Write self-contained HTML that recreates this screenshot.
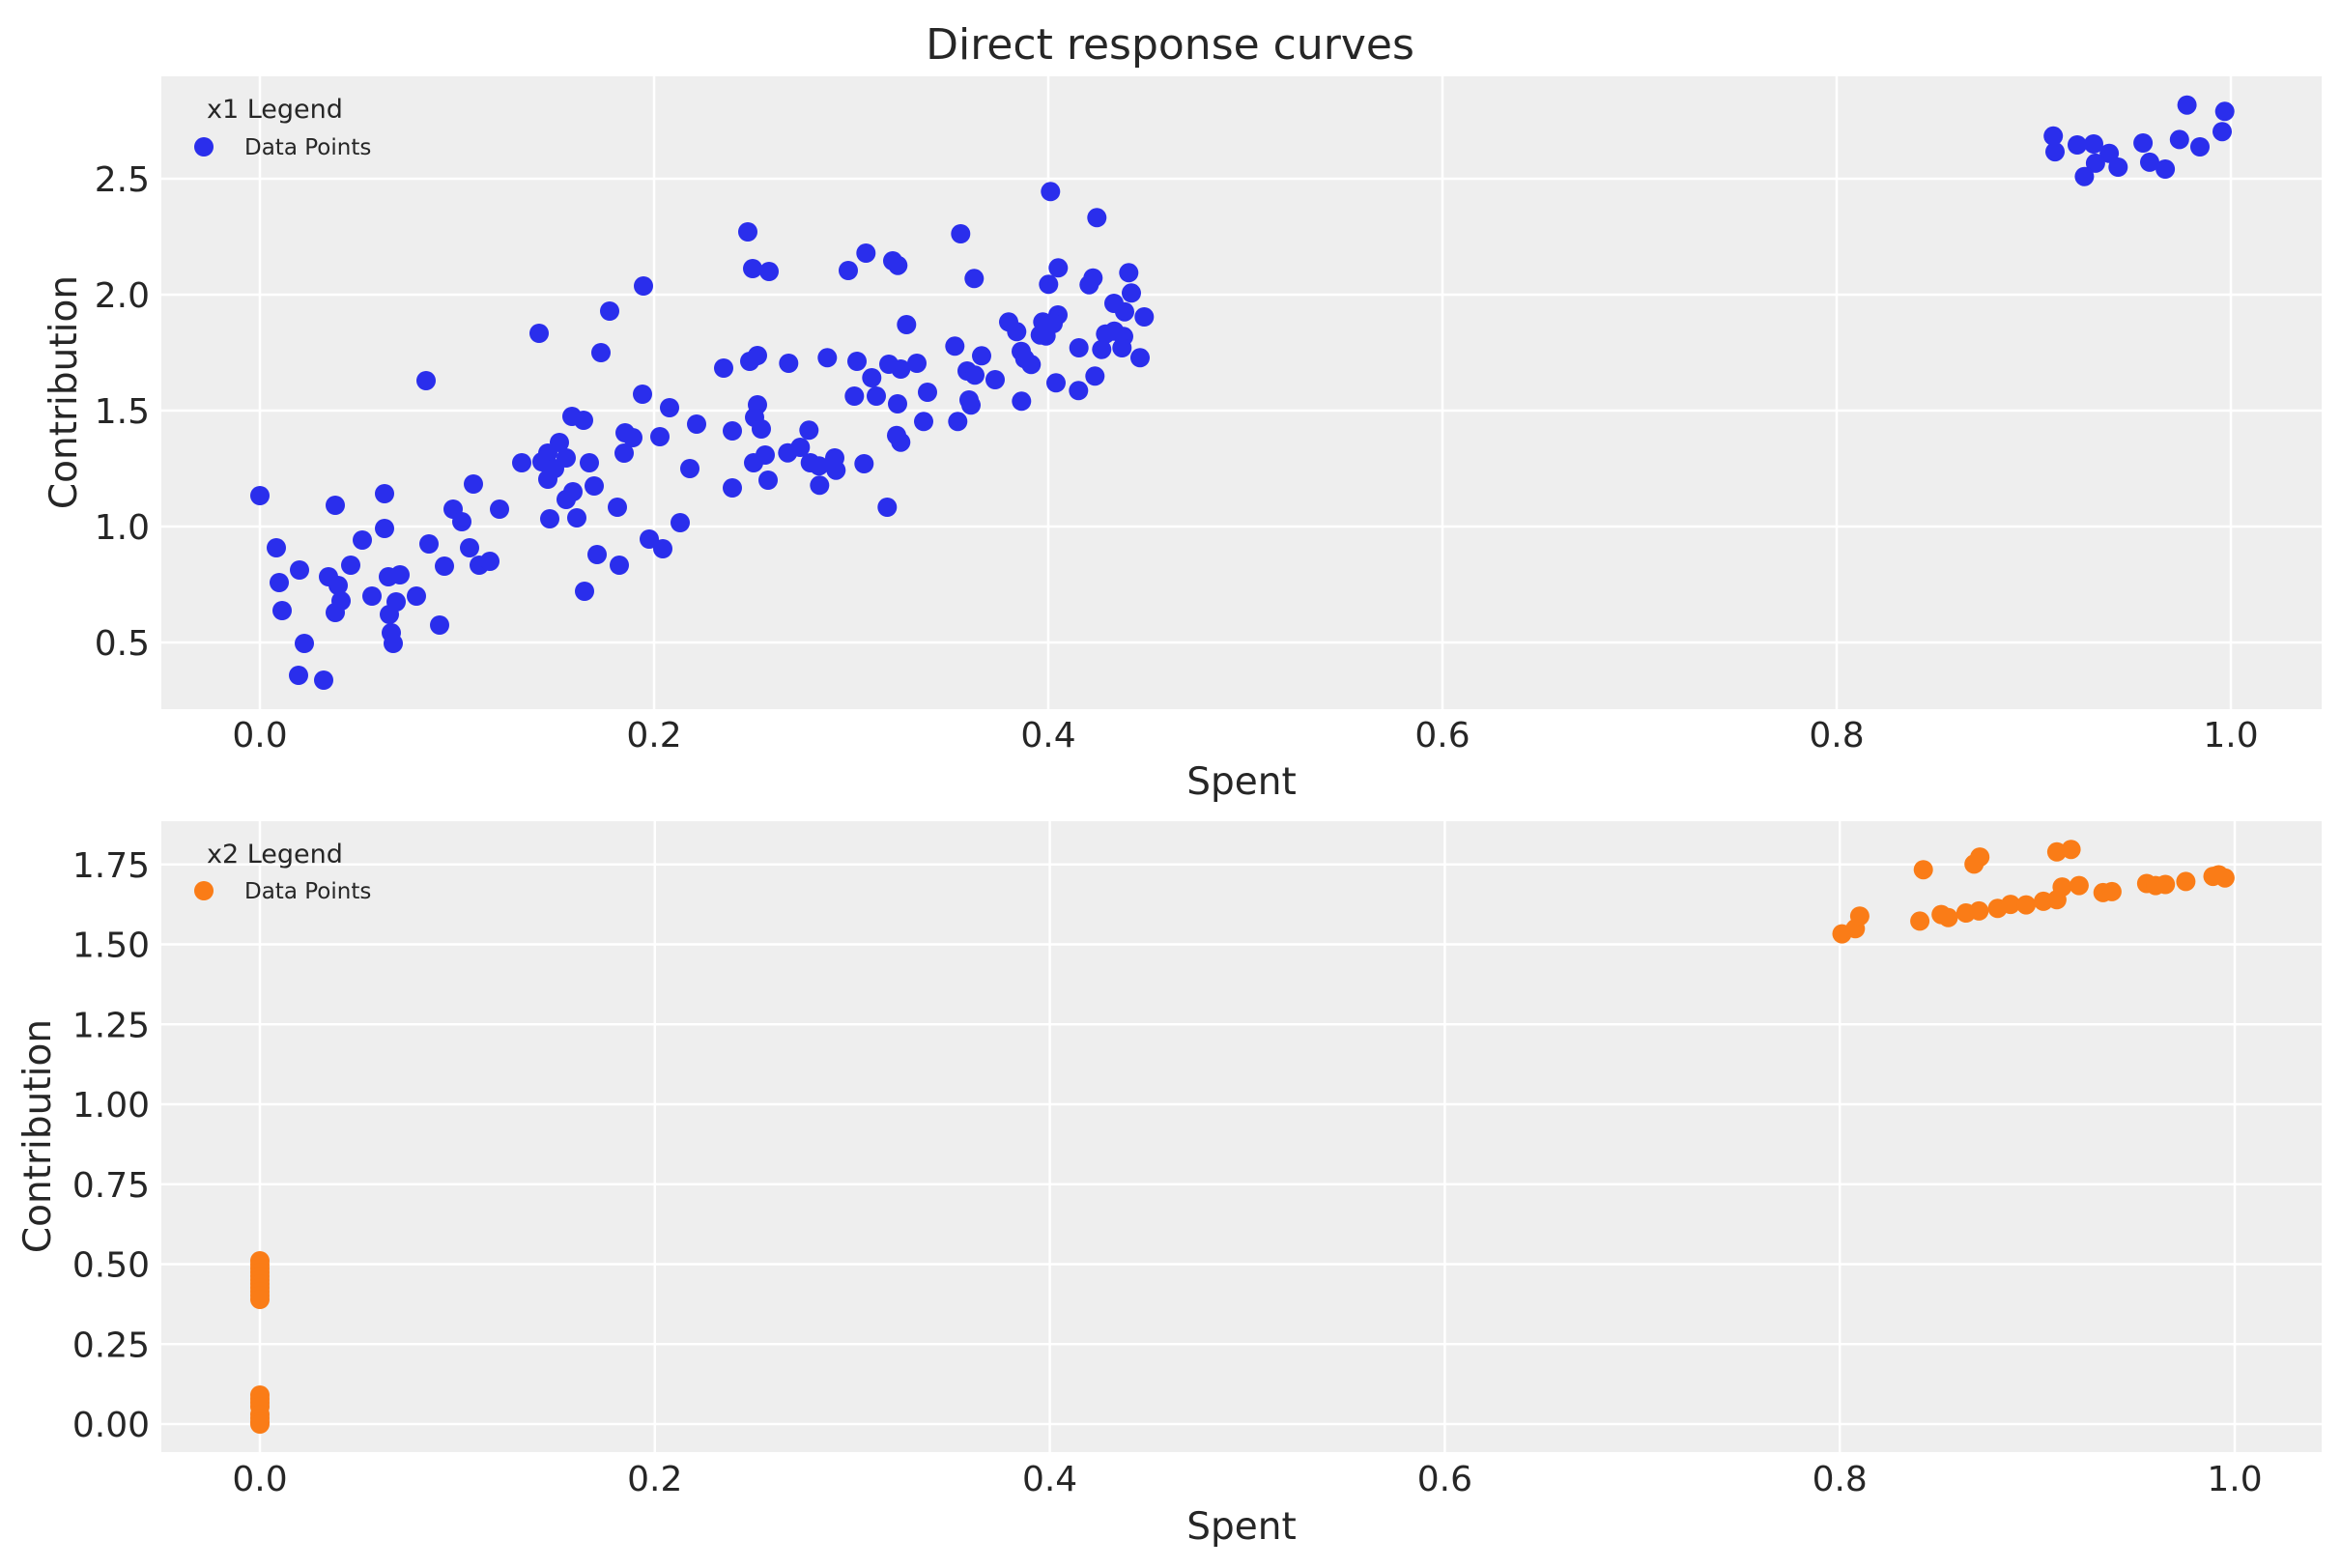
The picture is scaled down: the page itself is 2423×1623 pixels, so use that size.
<!DOCTYPE html>
<html><head><meta charset="utf-8"><style>
html,body{margin:0;padding:0;background:#fff;}
svg{display:block;font-family:"DejaVu Sans","Liberation Sans",sans-serif;}
</style></head><body>
<svg id="s" width="2423" height="1623" xmlns="http://www.w3.org/2000/svg">
<rect width="2423" height="1623" fill="#fff"/>
<text x="1211" y="61" font-size="44" text-anchor="middle" fill="#262626">Direct response curves</text>
<rect x="167" y="79" width="2236" height="655" fill="#eeeeee"/>
<rect x="167" y="850" width="2236" height="653" fill="#eeeeee"/>
<g id="grid" stroke="#fff" stroke-width="2.5"></g>
<g id="labels" fill="#262626"></g>
<g id="pts"></g>
<text transform="translate(79,406) rotate(-90)" font-size="39" text-anchor="middle" fill="#262626">Contribution</text>
<text transform="translate(52,1176) rotate(-90)" font-size="39" text-anchor="middle" fill="#262626">Contribution</text>
<text x="1285" y="822" font-size="39" text-anchor="middle" fill="#262626">Spent</text>
<text x="1285" y="1593" font-size="39" text-anchor="middle" fill="#262626">Spent</text>
<text x="214" y="122" font-size="27" fill="#262626">x1 Legend</text>
<circle cx="211" cy="152" r="10" fill="#2a2eec"/>
<text x="253" y="160" font-size="23" fill="#262626">Data Points</text>
<text x="214" y="893" font-size="27" fill="#262626">x2 Legend</text>
<circle cx="211" cy="922" r="10" fill="#fa7c17"/>
<text x="253" y="930" font-size="23" fill="#262626">Data Points</text>
</svg>
<script>
var NS="http://www.w3.org/2000/svg";
function el(p,t,a,txt){var e=document.createElementNS(NS,t);for(var k in a)e.setAttribute(k,a[k]);if(txt!==undefined)e.textContent=txt;document.getElementById(p).appendChild(e);return e;}
// top grid
for(var k=0;k<=5;k++){var x=269+408*k;el('grid','line',{x1:x,x2:x,y1:79,y2:734});el('labels','text',{x:x,y:773,'font-size':36,'text-anchor':'middle'},(k*0.2).toFixed(1));}
for(var v=0.5;v<=2.51;v+=0.5){var y=305-(v-2)*240;el('grid','line',{x1:167,x2:2403,y1:y,y2:y});el('labels','text',{x:155,y:y+13,'font-size':36,'text-anchor':'end'},v.toFixed(1));}
// bottom grid
for(var k=0;k<=5;k++){var x=269+408.8*k;el('grid','line',{x1:x,x2:x,y1:850,y2:1503});el('labels','text',{x:x,y:1543,'font-size':36,'text-anchor':'middle'},(k*0.2).toFixed(1));}
for(var i=0;i<=7;i++){var v=i*0.25;var y=1474-v*331;el('grid','line',{x1:167,x2:2403,y1:y,y2:y});el('labels','text',{x:155,y:y+13,'font-size':36,'text-anchor':'end'},v.toFixed(2));}
// blue points
var B=[[269,513],[286,567],[289,603],[292,632],[310,590],[315,666],[309,699],[335,704],[340,597],[350,606],[353,622],[347,634],[347,523],[363,585],[375,559],[385,617],[398,511],[398,547],[402,597],[414,595],[403,636],[410,623],[405,655],[407,666],[431,617],[441,394],[444,563],[455,647],[460,586],[469,527],[478,540],[486,567],[490,501],[496,585],[507,581],[517,527],[540,479],[558,345],[561,478],[567,469],[567,496],[574,485],[579,458],[586,474],[569,537],[586,517],[593,509],[592,431],[604,435],[597,536],[605,612],[610,479],[615,503],[618,574],[622,365],[631,322],[639,525],[641,585],[646,469],[647,448],[655,453],[666,296],[665,408],[672,558],[683,452],[686,568],[693,422],[704,541],[714,485],[721,439],[749,381],[758,446],[758,505],[774,240],[779,278],[776,374],[784,368],[780,479],[784,419],[781,432],[788,444],[792,471],[795,497],[796,281]];
var Z=[[79,588],[199,571],[264,300],[319,246],[402,270],[418,284],[445,468],[291,582],[390,591],[427,606],[477,588],[337,633],[283,690],[351,690],[417,714],[510,678],[498,769],[414,812],[427,833],[142,796],[115,849],[76,866],[146,897],[173,907],[222,882],[226,920],[175,967],[313,900],[385,1035],[613,186],[655,325],[595,535],[678,565],[633,612],[657,625],[720,639],[639,702],[645,718],[604,769],[802,706],[762,460],[787,490],[801,551],[812,574],[832,592],[892,55],[1036,136],[916,292],[886,343],[1024,323],[1012,344],[1135,307],[1143,370],[1089,402],[1122,428],[1183,444],[915,438],[900,465],[868,460],[860,500],[878,503],[980,540],[1063,497],[1090,488],[1119,505],[1051,545],[1114,540],[1170,571],[909,649],[979,673],[1030,628]];
Z.forEach(function(p){B.push([790+p[0]/3,180+p[1]/3]);});
var C=[[920,276],[924,308],[974,294],[1011,292],[1046,311],[1015,331],[990,358],[1066,339],[1122,290],[1137,329],[1172,343],[1204,283],[1250,298],[1221,213],[1306,226],[1300,267]];
C.forEach(function(p){B.push([1702+p[0]/2.174,p[1]/1.96]);});
B.forEach(function(p){el('pts','circle',{cx:p[0].toFixed(1),cy:p[1].toFixed(1),r:10,fill:'#2a2eec'});});
// orange points
var O=[[445,317],[475,307],[485,282],[628,191],[620,292],[668,279],[684,285],[724,276],[753,272],[742,180],[755,166],[795,267],[824,259],[859,260],[898,253],[928,250],[940,225],[978,222],[928,156],[960,151],[1032,236],[1052,234],[1130,218],[1150,222],[1172,220],[1218,214],[1279,204],[1292,201],[1306,207]];
var OP=[];
O.forEach(function(p){OP.push([1701.6+p[0]/2.172,799.6+p[1]/1.898]);});
for(var y=1305;y<=1348;y+=4)OP.push([269,y]);
[1444,1448,1452,1456,1464,1468,1472,1474].forEach(function(y){OP.push([269,y]);});
OP.forEach(function(p){el('pts','circle',{cx:p[0].toFixed(1),cy:p[1].toFixed(1),r:10,fill:'#fa7c17'});});
</script>
</body></html>
